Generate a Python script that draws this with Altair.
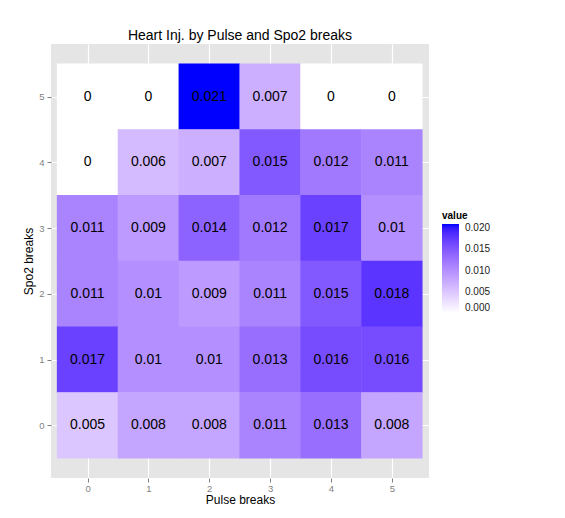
import altair as alt
import pandas as pd

# Heart injury rate by Pulse break (columns) and Spo2 break (rows)
pulse_breaks = [0, 1, 2, 3, 4, 5]
spo2_breaks = [5, 4, 3, 2, 1, 0]
values_by_spo2 = {
    5: [0, 0, 0.021, 0.007, 0, 0],
    4: [0, 0.006, 0.007, 0.015, 0.012, 0.011],
    3: [0.011, 0.009, 0.014, 0.012, 0.017, 0.01],
    2: [0.011, 0.01, 0.009, 0.011, 0.015, 0.018],
    1: [0.017, 0.01, 0.01, 0.013, 0.016, 0.016],
    0: [0.005, 0.008, 0.008, 0.011, 0.013, 0.008],
}
legend_ticks = [0.0, 0.005, 0.01, 0.015, 0.02]

rows = []
for s in spo2_breaks:
    for p, v in zip(pulse_breaks, values_by_spo2[s]):
        rows.append({"pulse": p, "spo2": s, "value": v})
df = pd.DataFrame(rows)
vmax = float(df["value"].max())

FONT = "Liberation Sans"

x_scale = alt.Scale(domain=[-0.6, 5.61], nice=False, zero=False)
y_scale = alt.Scale(domain=[-0.8, 5.8], nice=False, zero=False)
color_scale = alt.Scale(domain=[0, vmax], range=["white", "blue"], interpolate="lab")

axis_common = dict(
    values=pulse_breaks, format="d", domain=False,
    grid=True, gridColor="white", gridWidth=1.2,
    tickColor="#7f7f7f", tickSize=4, tickWidth=1,
    labelColor="#7f7f7f", labelFontSize=9.5, labelFont=FONT,
    titleFont=FONT, titleFontSize=12, titleFontWeight="normal", titleColor="black",
)

# tiles overlap by a hair so no anti-aliasing seams appear between them
base = alt.Chart(df).transform_calculate(
    x0="datum.pulse - 0.504", x1="datum.pulse + 0.504",
    y0="datum.spo2 - 0.504", y1="datum.spo2 + 0.504",
)

tiles = base.mark_rect().encode(
    x=alt.X("x0:Q", scale=x_scale,
            axis=alt.Axis(title="Pulse breaks", labelPadding=1, titlePadding=2, **axis_common)),
    x2="x1:Q",
    y=alt.Y("y0:Q", scale=y_scale,
            axis=alt.Axis(title="Spo2 breaks", labelPadding=3, titlePadding=3, **axis_common)),
    y2="y1:Q",
    color=alt.Color(
        "value:Q",
        scale=color_scale,
        legend=alt.Legend(
            type="gradient",
            title="value", orient="none", legendX=391, legendY=167,
            values=legend_ticks, format=".3f",
            gradientLength=89, gradientThickness=17,
            titleFont=FONT, titleFontSize=10, titleFontWeight="bold", titleColor="black",
            titlePadding=3,
            labelFont=FONT, labelFontSize=10, labelColor="#1a1a1a", labelOffset=6,
            gradientStrokeWidth=0,
        ),
    ),
)

labels = base.mark_text(font=FONT, fontSize=14, color="black").encode(
    x=alt.X("pulse:Q", scale=x_scale),
    y=alt.Y("spo2:Q", scale=y_scale),
    text=alt.Text("value:Q", format=".3~f"),
)

chart = (
    alt.layer(tiles, labels)
    .properties(
        width=378, height=434,
        title=alt.TitleParams("Heart Inj. by Pulse and Spo2 breaks", font=FONT,
                              fontSize=14, fontWeight="normal", color="black",
                              anchor="middle", offset=1),
        autosize=alt.AutoSizeParams(type="none"),
        padding={"left": 43, "top": 36, "right": 110, "bottom": 30},
        background="white",
    )
    .configure_view(fill="#E5E5E5", strokeOpacity=0, strokeWidth=0)
)

chart.save("out.html", embed_options={"renderer": "svg", "actions": False})
